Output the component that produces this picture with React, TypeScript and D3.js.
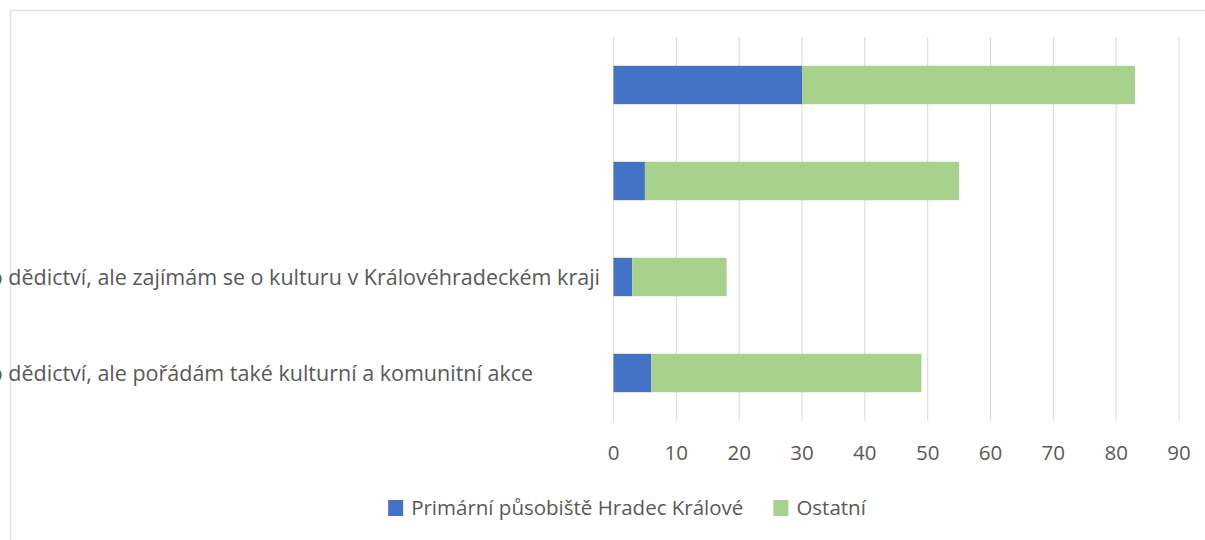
import React, { useEffect, useRef } from "react";
import * as d3 from "d3";

// ---- data ----
const categories: string[] = [
  "",
  "",
  "Nepracuji v oblasti kulturního dědictví, ale zajímám se o kulturu v Královéhradeckém kraji",
  "Nepracuji v oblasti kulturního dědictví, ale pořádám také kulturní a komunitní akce",
];
const seriesNames: string[] = ["Primární působiště Hradec Králové", "Ostatní"];
const primaryValues: number[] = [30, 5, 3, 6];
const otherValues: number[] = [53, 50, 15, 43];
const xTicks: number[] = [0, 10, 20, 30, 40, 50, 60, 70, 80, 90];
const colors: string[] = ["#4472C4", "#A9D18E"];

const W = 1205;
const H = 540;
const FONT = "'Open Sans', 'Noto Sans', sans-serif";
const FS = 20.5;
const LABEL_FS = 21.5;

export default function App() {
  const ref = useRef<SVGSVGElement | null>(null);

  useEffect(() => {
    const svg = d3.select(ref.current);
    svg.selectAll("*").remove();

    const plot = { left: 613.5, right: 1179, top: 37, bottom: 421 };
    const x = d3.scaleLinear().domain([0, 90]).range([plot.left, plot.right]);
    const y = d3
      .scaleBand<string>()
      .domain(categories.map((_, i) => String(i)))
      .range([plot.top, plot.bottom])
      .paddingInner(0.6)
      .paddingOuter(0.3);

    // frame
    svg
      .append("path")
      .attr("d", `M10.5,${H} L10.5,10.5 L${W},10.5`)
      .attr("fill", "none")
      .attr("stroke", "#e3e3e3")
      .attr("stroke-width", 1.5);

    // gridlines
    svg
      .append("g")
      .selectAll("line")
      .data(xTicks)
      .join("line")
      .attr("x1", (d) => x(d))
      .attr("x2", (d) => x(d))
      .attr("y1", plot.top)
      .attr("y2", plot.bottom)
      .attr("stroke", "#d9d9d9")
      .attr("stroke-width", 1);

    // stacked data
    const rows = categories.map((c, i) => ({
      key: String(i),
      primary: primaryValues[i],
      other: otherValues[i],
    }));
    const stack = d3.stack<any>().keys(["primary", "other"]);
    const stacked = stack(rows);

    svg
      .append("g")
      .selectAll("g")
      .data(stacked)
      .join("g")
      .attr("fill", (_, i) => colors[i])
      .selectAll("rect")
      .data((s) => s)
      .join("rect")
      .attr("x", (d) => x(d[0]))
      .attr("width", (d) => x(d[1]) - x(d[0]))
      .attr("y", (d: any) => y(d.data.key) as number)
      .attr("height", y.bandwidth());

    // tick labels
    svg
      .append("g")
      .selectAll("text")
      .data(xTicks)
      .join("text")
      .attr("x", (d) => x(d))
      .attr("y", 460)
      .attr("text-anchor", "middle")
      .attr("font-family", FONT)
      .attr("font-size", FS)
      .attr("fill", "#595959")
      .text((d) => String(d));

    // category labels (left-aligned at a common start, long ones run off to the left)
    const labelG = svg.append("g");
    const labels = labelG
      .selectAll("text")
      .data(categories)
      .join("text")
      .attr("y", (_, i) => (y(String(i)) as number) + y.bandwidth() / 2)
      .attr("dy", "0.35em")
      .attr("font-family", FONT)
      .attr("font-size", LABEL_FS)
      .attr("fill", "#595959")
      .text((d) => d);
    let maxW = 0;
    labels.each(function () {
      const w = (this as SVGTextElement).getComputedTextLength();
      if (w > maxW) maxW = w;
    });
    const startX = 600 - maxW;
    labels.attr("x", startX);

    // legend
    const legend = svg.append("g");
    const items = legend
      .selectAll("g")
      .data(seriesNames)
      .join("g");
    items
      .append("rect")
      .attr("width", 15)
      .attr("height", 16)
      .attr("y", 500)
      .attr("fill", (_, i) => colors[i]);
    items
      .append("text")
      .attr("x", 23)
      .attr("y", 515)
      .attr("font-family", FONT)
      .attr("font-size", FS)
      .attr("fill", "#595959")
      .text((d) => d);
    const widths: number[] = [];
    items.each(function () {
      const t = d3.select(this).select("text").node() as SVGTextElement;
      widths.push(23 + t.getComputedTextLength());
    });
    const gap = 30;
    const total = widths.reduce((a, b) => a + b, 0) + gap * (widths.length - 1);
    let cx = 627 - total / 2;
    items.attr("transform", (_, i) => {
      const tx = cx;
      cx += widths[i] + gap;
      return `translate(${tx},0)`;
    });
  }, []);

  return (
    <svg
      ref={ref}
      width={W}
      height={H}
      style={{ position: "absolute", left: 0, top: 0, background: "#fff" }}
    />
  );
}
